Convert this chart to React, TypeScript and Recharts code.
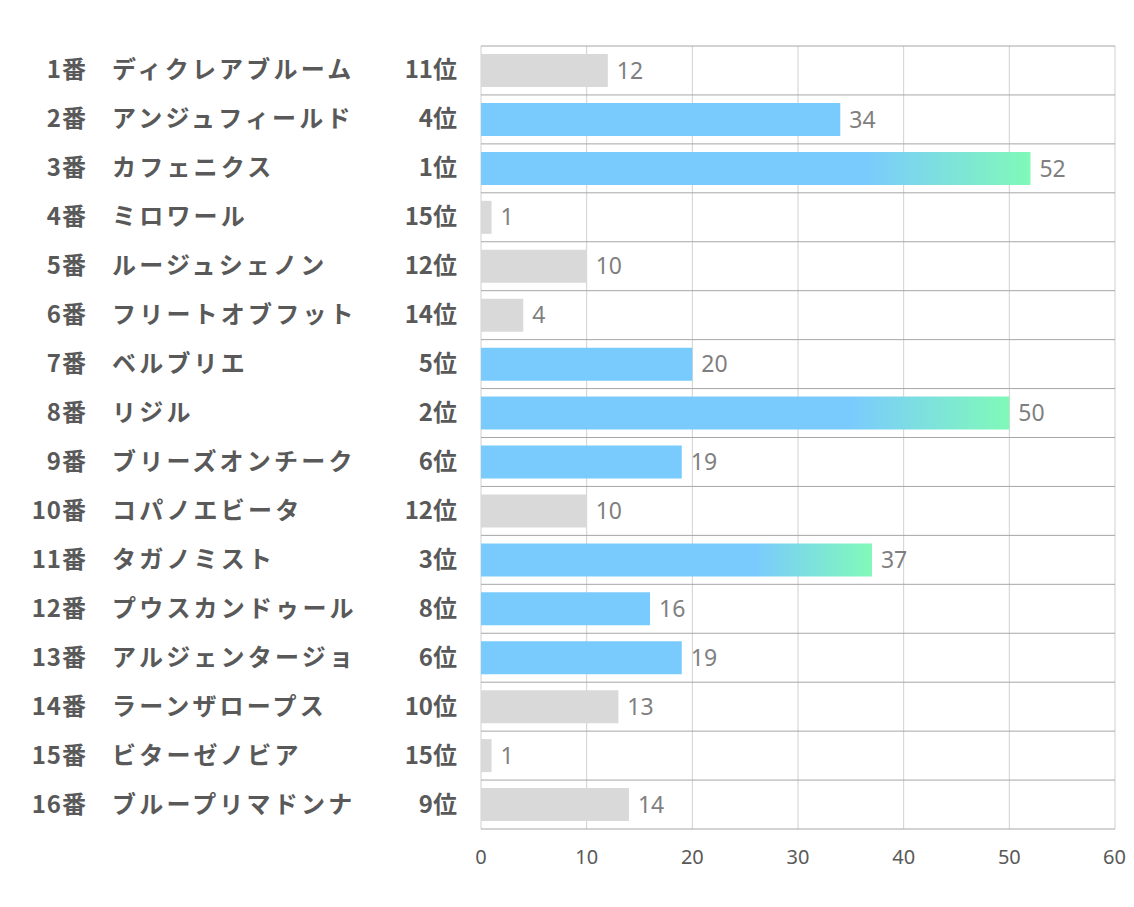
import React from "react";
import { BarChart, Bar, XAxis, YAxis, CartesianGrid, LabelList, Cell } from "recharts";

const numbers = ["1番","2番","3番","4番","5番","6番","7番","8番","9番","10番","11番","12番","13番","14番","15番","16番"];
const names = ["ディクレアブルーム","アンジュフィールド","カフェニクス","ミロワール","ルージュシェノン","フリートオブフット","ベルブリエ","リジル","ブリーズオンチーク","コパノエビータ","タガノミスト","プウスカンドゥール","アルジェンタージョ","ラーンザロープス","ビターゼノビア","ブループリマドンナ"];
const ranks = ["11位","4位","1位","15位","12位","14位","5位","2位","6位","12位","3位","8位","6位","10位","15位","9位"];
const rankNums = [11,4,1,15,12,14,5,2,6,12,3,8,6,10,15,9];
const values = [12,34,52,1,10,4,20,50,19,10,37,16,19,13,1,14];
const xTicks = [0,10,20,30,40,50,60];

const data = numbers.map((n, i) => ({ key: String(i), num: n, name: names[i], rank: ranks[i], r: rankNums[i], value: values[i] }));

const BLUE = "#7acbfd";
const GREEN = "#80f9b9";
const GRAY = "#d9d9d9";
const TEXT = "#595959";

const fillFor = (r: number) => (r <= 3 ? "url(#topGrad)" : r <= 8 ? BLUE : GRAY);

const YTick = (props: any) => {
  const { y, payload } = props;
  const d = data[Number(payload.value)];
  const style = { fontFamily: "'Noto Sans CJK JP', sans-serif", fontWeight: 700, fontSize: 24, fill: TEXT } as any;
  return (
    <g>
      <text x={79} y={y} dy={8} textAnchor="end" style={{ ...style, letterSpacing: 1 }}>{d.num}</text>
      <text x={104} y={y} dy={8} textAnchor="start" style={{ ...style, letterSpacing: 3.2 }}>{d.name}</text>
      <text x={449} y={y} dy={8} textAnchor="end" style={style}>{d.rank}</text>
    </g>
  );
};

const N = data.length;

export default function App() {
  return (
    <div style={{ width: 1118, height: 899 }}>
      <BarChart
        width={1118}
        height={899}
        data={data}
        layout="vertical"
        margin={{ top: 38, right: 11, bottom: 30, left: 0 }}
        barSize={33}
      >
        <defs>
          <linearGradient id="topGrad" x1="0" y1="0" x2="1" y2="0">
            <stop offset="0" stopColor={BLUE} />
            <stop offset="0.7" stopColor={BLUE} />
            <stop offset="1" stopColor={GREEN} />
          </linearGradient>
        </defs>
        <CartesianGrid horizontal={false} vertical stroke="#d0d0d0" strokeWidth={1} />
        <CartesianGrid
          vertical={false}
          horizontal
          stroke="#a6a6a6"
          strokeWidth={1}
          horizontalCoordinatesGenerator={({ offset }: any) =>
            Array.from({ length: N + 1 }, (_, i) => offset.top + (i * offset.height) / N)
          }
        />
        <XAxis
          type="number"
          domain={[0, 60]}
          ticks={xTicks}
          axisLine={false}
          tickLine={false}
          tickMargin={15}
          height={48}
          tick={{ fill: TEXT, fontSize: 20, fontFamily: "'Noto Sans', sans-serif" }}
        />
        <YAxis
          type="category"
          dataKey="key"
          width={473}
          axisLine={false}
          tickLine={false}
          tick={<YTick />}
          interval={0}
        />
        <Bar dataKey="value" isAnimationActive={false}>
          {data.map((d, i) => (
            <Cell key={i} fill={fillFor(d.r)} />
          ))}
          <LabelList
            dataKey="value"
            position="right"
            offset={9}
            style={{ fill: "#7f7f7f", fontSize: 23, fontFamily: "'Noto Sans', sans-serif" }}
          />
        </Bar>
      </BarChart>
    </div>
  );
}
